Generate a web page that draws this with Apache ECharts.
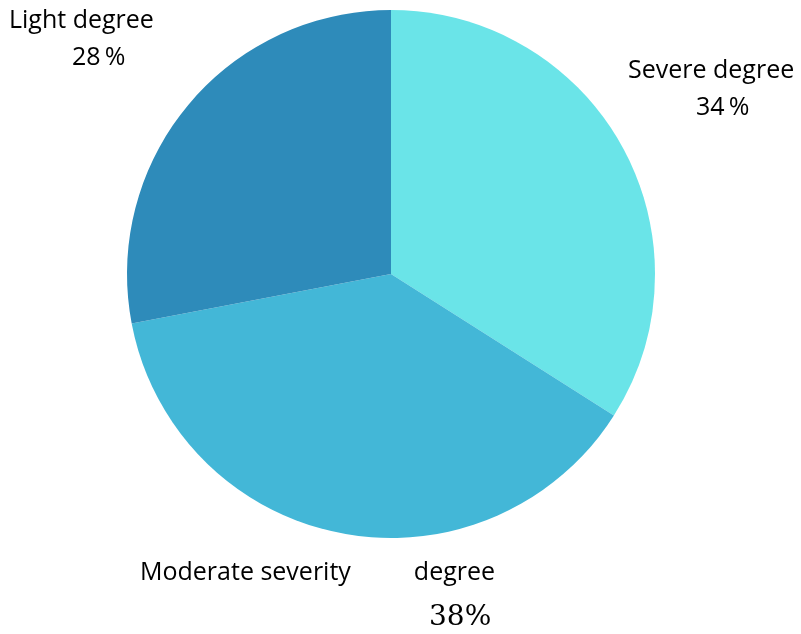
<!DOCTYPE html>
<html>
<head>
<meta charset="utf-8">
<script src="https://cdn.jsdelivr.net/npm/echarts@6/dist/echarts.min.js"></script>
<style>html,body{margin:0;padding:0;background:#fff}#c{width:801px;height:634px}</style>
</head>
<body>
<div id="c"></div>
<script>
const categories = ['Severe degree', 'Moderate severity degree', 'Light degree'];
const values = [34, 38, 28];
const colors = ['#6AE4E8', '#43B7D7', '#2E8BBA'];

const chart = echarts.init(document.getElementById('c'), null, {renderer: 'canvas'});
const labelPos = [
  {x: 628, y: 52},
  {x: 140, y: 554},
  {x: 9, y: 2}
];
const F = 'Open Sans';
const FS = 25;
function fmt(p) {
  if (p.dataIndex === 1) {
    const parts = p.name.split(' ');
    return '{n|' + parts[0] + ' ' + parts[1] + '}{g|' + parts[2] + '}\n{v|' + p.value + '%}';
  }
  return '{n|' + p.name + '}\n{p' + p.dataIndex + '|' + p.value + '\u2009%}';
}
chart.setOption({
  animation: false,
  series: [{
    type: 'pie',
    center: [391, 274],
    radius: 264,
    startAngle: 90,
    clockwise: true,
    data: categories.map((c, i) => ({name: c, value: values[i], itemStyle: {color: colors[i]}})),
    labelLine: {show: false},
    label: {
      show: true,
      position: 'outside',
      formatter: fmt,
      color: '#000',
      fontFamily: F,
      fontSize: FS,
      align: 'left',
      overflow: 'none',
      width: 400,
      rich: {
        n: {fontFamily: F, fontSize: FS, color: '#000', lineHeight: 37},
        g: {fontFamily: F, fontSize: FS, color: '#000', lineHeight: 37, padding: [0, 0, 0, 63]},
        p0: {fontFamily: F, fontSize: FS, color: '#000', lineHeight: 37, padding: [0, 0, 0, 68]},
        p2: {fontFamily: F, fontSize: FS, color: '#000', lineHeight: 37, padding: [0, 0, 0, 63]},
        v: {fontFamily: 'DejaVu Serif', fontSize: 28, color: '#000', lineHeight: 54, padding: [0, 0, 0, 289]}
      }
    },
    labelLayout: function (params) {
      const p = labelPos[params.dataIndex];
      return {x: p.x, y: p.y, align: 'left', verticalAlign: 'top', hideOverlap: false, moveOverlap: false};
    }
  }]
});
</script>
</body>
</html>
